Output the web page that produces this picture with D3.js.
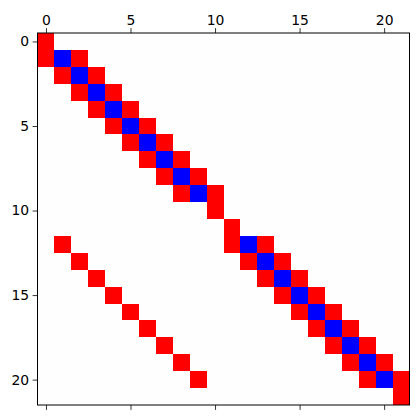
<!DOCTYPE html>
<html>
<head>
<meta charset="utf-8">
<script src="https://cdn.jsdelivr.net/npm/d3@7"></script>
<style>
html,body{margin:0;padding:0;background:#fff;}
svg{display:block;}
.tick text{font-family:"DejaVu Sans",sans-serif;font-size:13.9px;fill:#000;}
</style>
</head>
<body>
<svg id="chart" width="419" height="420"></svg>
<script>
// 22x22 matrix: 1 = red, -1 = blue, 0 = white
const matrix = [
  [1,0,0,0,0,0,0,0,0,0,0,0,0,0,0,0,0,0,0,0,0,0],
  [1,-1,1,0,0,0,0,0,0,0,0,0,0,0,0,0,0,0,0,0,0,0],
  [0,1,-1,1,0,0,0,0,0,0,0,0,0,0,0,0,0,0,0,0,0,0],
  [0,0,1,-1,1,0,0,0,0,0,0,0,0,0,0,0,0,0,0,0,0,0],
  [0,0,0,1,-1,1,0,0,0,0,0,0,0,0,0,0,0,0,0,0,0,0],
  [0,0,0,0,1,-1,1,0,0,0,0,0,0,0,0,0,0,0,0,0,0,0],
  [0,0,0,0,0,1,-1,1,0,0,0,0,0,0,0,0,0,0,0,0,0,0],
  [0,0,0,0,0,0,1,-1,1,0,0,0,0,0,0,0,0,0,0,0,0,0],
  [0,0,0,0,0,0,0,1,-1,1,0,0,0,0,0,0,0,0,0,0,0,0],
  [0,0,0,0,0,0,0,0,1,-1,1,0,0,0,0,0,0,0,0,0,0,0],
  [0,0,0,0,0,0,0,0,0,0,1,0,0,0,0,0,0,0,0,0,0,0],
  [0,0,0,0,0,0,0,0,0,0,0,1,0,0,0,0,0,0,0,0,0,0],
  [0,1,0,0,0,0,0,0,0,0,0,1,-1,1,0,0,0,0,0,0,0,0],
  [0,0,1,0,0,0,0,0,0,0,0,0,1,-1,1,0,0,0,0,0,0,0],
  [0,0,0,1,0,0,0,0,0,0,0,0,0,1,-1,1,0,0,0,0,0,0],
  [0,0,0,0,1,0,0,0,0,0,0,0,0,0,1,-1,1,0,0,0,0,0],
  [0,0,0,0,0,1,0,0,0,0,0,0,0,0,0,1,-1,1,0,0,0,0],
  [0,0,0,0,0,0,1,0,0,0,0,0,0,0,0,0,1,-1,1,0,0,0],
  [0,0,0,0,0,0,0,1,0,0,0,0,0,0,0,0,0,1,-1,1,0,0],
  [0,0,0,0,0,0,0,0,1,0,0,0,0,0,0,0,0,0,1,-1,1,0],
  [0,0,0,0,0,0,0,0,0,1,0,0,0,0,0,0,0,0,0,1,-1,1],
  [0,0,0,0,0,0,0,0,0,0,0,0,0,0,0,0,0,0,0,0,0,1]
];
const xTicks = [0,5,10,15,20];
const yTicks = [0,5,10,15,20];

const svg = d3.select("#chart");
const mLeft = 37.5, mTop = 33, size = 372;
const n = matrix.length;

const x = d3.scaleLinear().domain([-0.5, n - 0.5]).range([mLeft, mLeft + size]);
const y = d3.scaleLinear().domain([-0.5, n - 0.5]).range([mTop, mTop + size]);
const color = d3.scaleLinear().domain([-1, 0, 1]).range(["#0000ff", "#fffefe", "#ff0000"]);

const cells = [];
matrix.forEach((row, i) => row.forEach((v, j) => cells.push({i, j, v})));

svg.append("g").selectAll("rect").data(cells).join("rect")
  .attr("x", d => x(d.j - 0.5))
  .attr("y", d => y(d.i - 0.5))
  .attr("width", d => x(d.j + 0.5) - x(d.j - 0.5) + 0.3)
  .attr("height", d => y(d.i + 0.5) - y(d.i - 0.5) + 0.3)
  .attr("fill", d => color(d.v))
  .attr("shape-rendering", "crispEdges");

const tickLen = 4.9;
const gTop = svg.append("g").attr("transform", `translate(0,${mTop})`)
  .call(d3.axisTop(x).tickValues(xTicks).tickFormat(d3.format("d")).tickSize(tickLen).tickPadding(3.5));
const gBottom = svg.append("g").attr("transform", `translate(0,${mTop + size})`)
  .call(d3.axisBottom(x).tickValues(xTicks).tickFormat("").tickSize(tickLen));
const gLeft = svg.append("g").attr("transform", `translate(${mLeft},0)`)
  .call(d3.axisLeft(y).tickValues(yTicks).tickFormat(d3.format("d")).tickSize(tickLen).tickPadding(3.5));

[gTop, gBottom, gLeft].forEach(g => {
  g.select(".domain").remove();
  g.selectAll(".tick line").attr("stroke", "#000").attr("stroke-width", 0.8);
});

svg.append("rect")
  .attr("x", mLeft).attr("y", mTop).attr("width", size).attr("height", size)
  .attr("fill", "none").attr("stroke", "#000").attr("stroke-width", 1);
</script>
</body>
</html>
